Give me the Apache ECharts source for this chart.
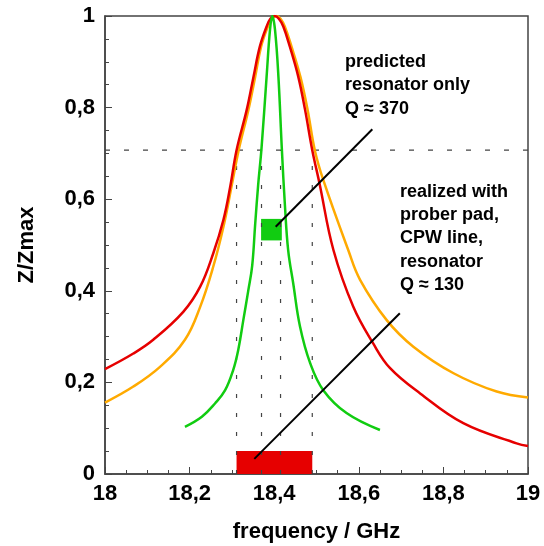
<!DOCTYPE html>
<html>
<head>
<meta charset="utf-8">
<script src="https://cdn.jsdelivr.net/npm/echarts@6/dist/echarts.min.js"></script>
<style>
  html, body { margin: 0; padding: 0; background: #fff; }
  #resonance { width: 544px; height: 546px; }
</style>
</head>
<body>
<div id="resonance"></div>
<script>
// Messkurven [frequenz GHz, Z/Zmax]
const redCurve = [
  [18.000, 0.229], [18.067, 0.263], [18.114, 0.293], [18.185, 0.354], [18.225, 0.409],
  [18.256, 0.482], [18.280, 0.555], [18.296, 0.627], [18.311, 0.707], [18.335, 0.795],
  [18.351, 0.867], [18.366, 0.933], [18.382, 0.977], [18.391, 0.994], [18.401, 1.0],
  [18.411, 0.994], [18.4215, 0.977], [18.437, 0.933], [18.457, 0.867], [18.473, 0.795],
  [18.490, 0.707], [18.507, 0.635], [18.540, 0.489], [18.587, 0.365], [18.634, 0.285],
  [18.674, 0.231], [18.745, 0.176], [18.847, 0.111], [18.973, 0.067], [19.0, 0.061]
];
const orangeCurve = [
  [18.000, 0.156], [18.067, 0.191], [18.130, 0.234], [18.189, 0.293], [18.225, 0.365],
  [18.256, 0.453], [18.280, 0.540], [18.299, 0.627], [18.316, 0.707], [18.339, 0.795],
  [18.355, 0.867], [18.369, 0.933], [18.385, 0.977], [18.395, 0.994], [18.405, 1.0],
  [18.415, 0.994], [18.425, 0.977], [18.441, 0.933], [18.462, 0.867], [18.479, 0.795],
  [18.496, 0.707], [18.516, 0.642], [18.575, 0.489], [18.603, 0.424], [18.666, 0.336],
  [18.729, 0.278], [18.824, 0.220], [18.926, 0.180], [19.0, 0.167]
];
const greenCurve = [
  [18.189, 0.103], [18.229, 0.125], [18.260, 0.154], [18.284, 0.183], [18.303, 0.227],
  [18.315, 0.271], [18.327, 0.336], [18.339, 0.402], [18.348, 0.455], [18.355, 0.545],
  [18.362, 0.630], [18.370, 0.711], [18.382, 0.867], [18.390, 0.969], [18.3955, 1.0],
  [18.402, 0.969], [18.410, 0.867], [18.418, 0.711], [18.4255, 0.584], [18.433, 0.489],
  [18.445, 0.416], [18.461, 0.322], [18.485, 0.242], [18.516, 0.183], [18.571, 0.133],
  [18.650, 0.096]
];

// -3dB Linie und Bandbreiten-Markierungen
const halfPowerLevel = 0.707;
const bandEdges = [18.311, 18.370, 18.415, 18.490];

// Rechtecke [x0, y0, x1, y1]
const redBox = [18.311, 0, 18.490, 0.05];
const greenBox = [18.369, 0.51, 18.418, 0.557];

// Zeiger zu den Texten
const pointerPredicted = [[18.4035, 0.540], [18.632, 0.7526]];
const pointerRealized = [[18.353, 0.033], [18.697, 0.351]];

const xTicks = { min: 18, max: 19, interval: 0.2 };
const yTicks = { min: 0, max: 1, interval: 0.2 };

const FONT = "'Liberation Sans', Arial, sans-serif";
const commaFmt = v => String(+(+v).toFixed(2)).replace('.', ',');

const chart = echarts.init(document.getElementById('resonance'));

const dashStyle = (dash) => ({ color: '#444', width: 1.2, type: dash });

const bandLines = bandEdges.map(x => ({
  type: 'line',
  data: [[x, 0], [x, halfPowerLevel]],
  symbol: 'none',
  silent: true,
  lineStyle: dashStyle([4, 15]),
  z: 1
}));

const axisText = { fontFamily: FONT, fontWeight: 'bold', fontSize: 22, color: '#000' };

const option = {
  animation: false,
  backgroundColor: '#fff',
  grid: {
    left: 105, right: 16, top: 16, bottom: 72,
    show: true, borderColor: '#444', borderWidth: 1.5,
    outerBoundsMode: 'none'
  },
  xAxis: {
    type: 'value',
    min: xTicks.min, max: xTicks.max, interval: xTicks.interval,
    name: 'frequency / GHz',
    nameLocation: 'middle',
    nameGap: 47,
    nameTextStyle: { ...axisText, verticalAlign: 'top' },
    axisLine: { lineStyle: { color: '#444', width: 1.5 } },
    axisTick: { inside: true, length: 7, lineStyle: { color: '#444' } },
    minorTick: { show: true, splitNumber: 4, length: 4, lineStyle: { color: '#444' } },
    splitLine: { show: false },
    axisLabel: { ...axisText, margin: 9, formatter: commaFmt }
  },
  yAxis: {
    type: 'value',
    min: yTicks.min, max: yTicks.max, interval: yTicks.interval,
    name: 'Z/Zmax',
    nameLocation: 'middle',
    nameGap: 67,
    nameTextStyle: axisText,
    axisLine: { lineStyle: { color: '#444', width: 1.5 } },
    axisTick: { inside: true, length: 7, lineStyle: { color: '#444' } },
    minorTick: { show: true, splitNumber: 4, length: 4, lineStyle: { color: '#444' } },
    splitLine: { show: false },
    axisLabel: { ...axisText, margin: 10, formatter: commaFmt }
  },
  series: [
    {
      type: 'line',
      data: [[xTicks.min, halfPowerLevel], [xTicks.max, halfPowerLevel]],
      symbol: 'none', silent: true,
      lineStyle: dashStyle([5, 14]),
      z: 1
    },
    ...bandLines,
    {
      name: 'orange', type: 'line', data: orangeCurve, symbol: 'none',
      smooth: 0.4,
      lineStyle: { color: '#ffaa00', width: 2.5 }, z: 2
    },
    {
      name: 'red', type: 'line', data: redCurve, symbol: 'none',
      smooth: 0.4,
      lineStyle: { color: '#e60000', width: 2.5 }, z: 3,
      markArea: {
        silent: true,
        itemStyle: { color: '#e60000', opacity: 1 },
        data: [[{ coord: [redBox[0], redBox[1]] }, { coord: [redBox[2], redBox[3]] }]]
      }
    },
    {
      name: 'green', type: 'line', data: greenCurve, symbol: 'none',
      smooth: 0.4,
      lineStyle: { color: '#11cc11', width: 2.5 }, z: 4,
      markArea: {
        silent: true,
        itemStyle: { color: '#11cc11', opacity: 1 },
        data: [[{ coord: [greenBox[0], greenBox[1]] }, { coord: [greenBox[2], greenBox[3]] }]]
      }
    },
    {
      type: 'line', data: pointerPredicted, symbol: 'none', silent: true,
      lineStyle: { color: '#000', width: 2 }, z: 6
    },
    {
      type: 'line', data: pointerRealized, symbol: 'none', silent: true,
      lineStyle: { color: '#000', width: 2 }, z: 6
    }
  ],
  graphic: [
    {
      type: 'text', left: 345, top: 50, z: 10,
      style: {
        text: 'predicted\nresonator only\nQ ≈ 370',
        font: 'bold 18px ' + FONT, lineHeight: 23.5, fill: '#000'
      }
    },
    {
      type: 'text', left: 400, top: 180, z: 10,
      style: {
        text: 'realized with\nprober pad,\nCPW line,\nresonator\nQ ≈ 130',
        font: 'bold 18px ' + FONT, lineHeight: 23.3, fill: '#000'
      }
    }
  ]
};

chart.setOption(option);
</script>
</body>
</html>
